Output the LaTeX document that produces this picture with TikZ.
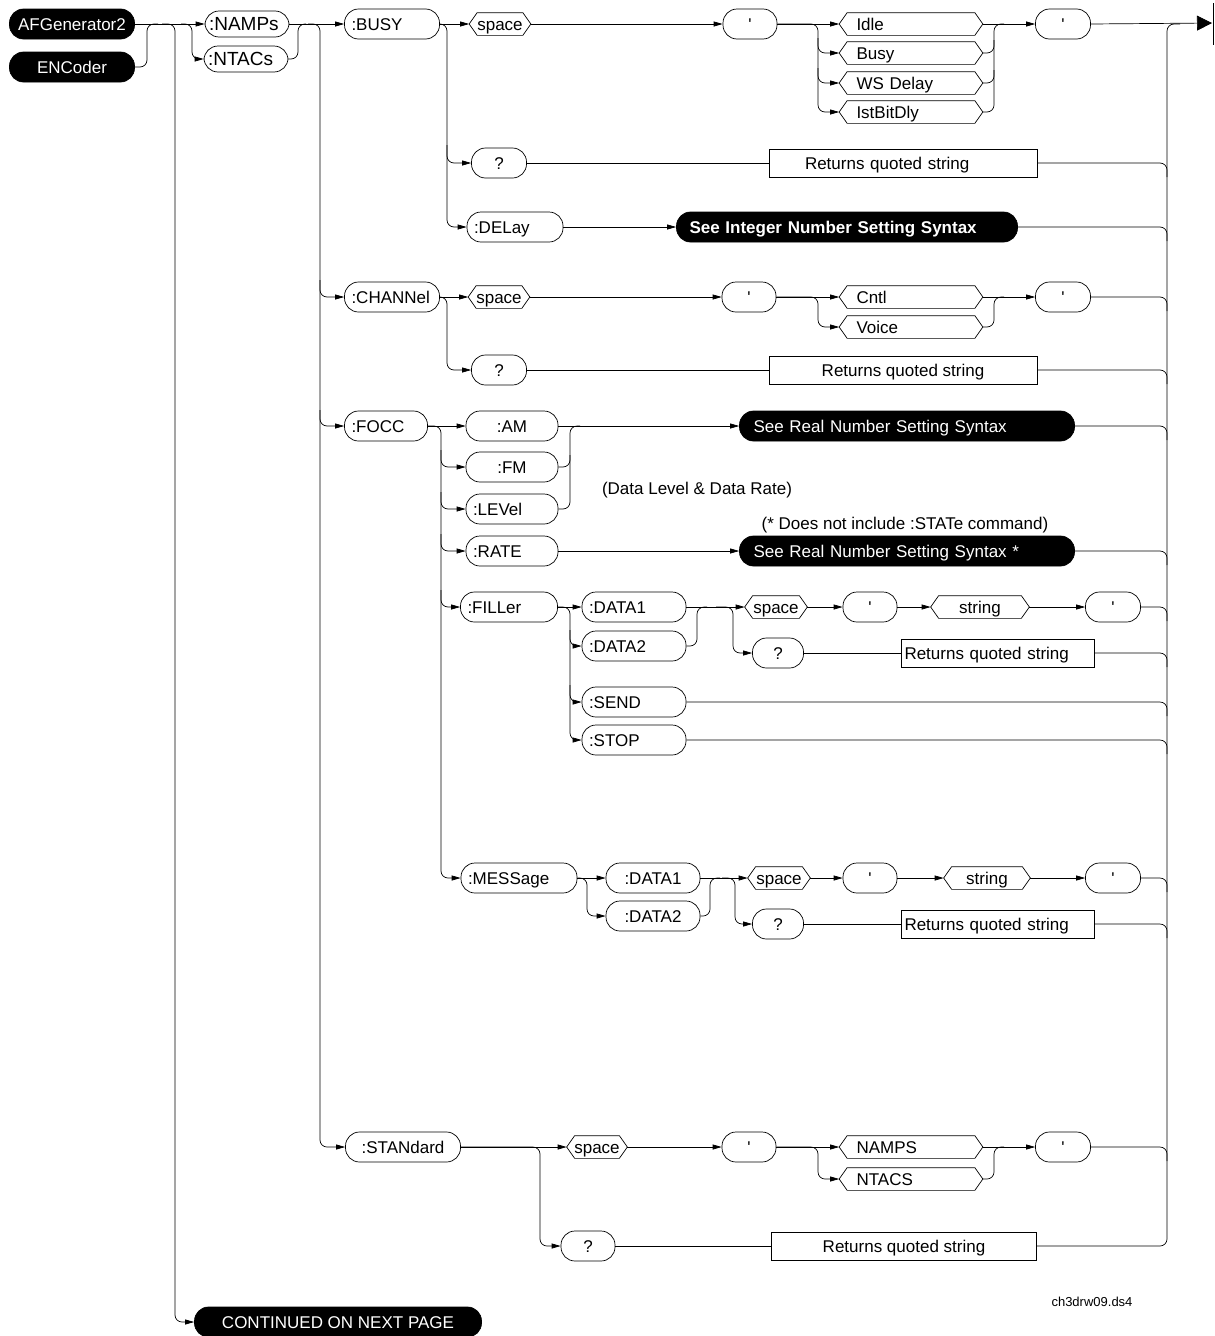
\documentclass[tikz,border=0pt]{standalone}
\usepackage{fontspec}
\setmainfont{Liberation Sans}
\usetikzlibrary{arrows.meta}
\begin{document}
\begin{tikzpicture}[x=1pt,y=-1pt,
  font=\fontsize{17}{20}\selectfont,
  line width=0.7pt,
  base/.style={inner sep=0pt, text height=12pt, text depth=0pt},
  pill/.style={base, draw, rounded corners=14pt, minimum height=30pt, inner xsep=7pt},
  pillL/.style={pill, text width=#1, align=left},
  pillC/.style={pill, minimum width=#1},
  blk/.style={base, draw=black, fill=black, text=white, rounded corners=14pt, minimum height=30pt, inner xsep=13pt},
  hexa/.style={base, minimum height=22pt, minimum width=#1},
  hexaL/.style={base, minimum height=22pt, inner xsep=17pt, text width=109pt, align=left},
  rbox/.style={base, draw, minimum height=28pt, minimum width=#1},
  rboxL/.style={base, draw, minimum height=28pt, inner xsep=3pt, text width=#1, align=left},
  arr/.style={-{Triangle[length=9pt,width=5pt]}},
  rc/.style={rounded corners=7pt},
  note/.style={base},
  big/.style={font=\fontsize{19}{22}\selectfont}
]
\useasboundingbox (0,0) rectangle (1215,1336);

% ---------- nodes ----------
\node[blk, minimum width=125pt, inner xsep=0pt] (afg) at (72,24) {AFGenerator2};
\node[blk, minimum width=125pt, inner xsep=0pt] (enc) at (72,67) {ENCoder};
\node[pillL=76pt, minimum height=26pt, inner xsep=4pt, big] (namps) at (247,24) {:NAMPs};
\node[pillL=76pt, minimum height=26pt, inner xsep=4pt, big] (ntacs) at (246,59) {:NTACs};

\node[pillL=81pt] (busy) at (392,24) {:BUSY};
\node[hexa=61pt] (sp1) at (500,24) {space};
\node[pillC=55pt] (bq) at (499,163) {?};
\node[pillL=82pt] (delay) at (515,227) {:DELay};
\node[pillC=54pt] (q1) at (750,24) {\textquotesingle};
\node[hexaL] (idle) at (911,24) {Idle};
\node[hexaL] (bsy) at (911,53) {Busy};
\node[hexaL] (wsd) at (911,83) {WS Delay};
\node[hexaL] (ist) at (911,112) {IstBitDly};
\node[pillC=55pt] (q2) at (1063,24) {\textquotesingle};
\node[rboxL=232pt, inner xsep=18pt] (r1) at (903,163) {\hspace*{18pt}Returns quoted string};
\node[blk, minimum width=341pt, text width=315pt, align=left] (intb) at (847,227) {\bfseries See Integer Number Setting Syntax};

\node[pillL=81pt] (chan) at (392,297) {:CHANNel};
\node[hexa=61pt] (sp2) at (499,297) {space};
\node[pillC=55pt] (cq) at (499,370) {?};
\node[pillC=54pt] (q3) at (749,297) {\textquotesingle};
\node[hexaL] (cntl) at (911,297) {Cntl};
\node[hexaL] (voice) at (911,327) {Voice};
\node[pillC=55pt] (q4) at (1063,297) {\textquotesingle};
\node[rbox=268pt] (r2) at (903,370) {Returns quoted string};

\node[pillL=69pt] (focc) at (386,426) {:FOCC};
\node[pillC=92pt] (am) at (512,426) {:AM};
\node[pillC=92pt] (fm) at (512,467) {:FM};
\node[pillL=78pt] (level) at (512,509) {:LEVel};
\node[pillL=78pt] (rate) at (512,551) {:RATE};
\node[blk, minimum width=335pt, text width=307pt, inner xsep=14pt, align=left] (real1) at (907,426) {See Real Number Setting Syntax};
\node[note] (dl) at (697,488) {(Data Level \& Data Rate)};
\node[note] (dni) at (905,523) {(* Does not include :STATe command)};
\node[blk, minimum width=335pt, text width=307pt, inner xsep=14pt, align=left] (real2) at (907,551) {See Real Number Setting Syntax *};

\node[pillL=83pt] (filler) at (509,607) {:FILLer};
\node[pillL=90pt] (d1) at (634,607) {:DATA1};
\node[pillL=90pt] (d2) at (634,646) {:DATA2};
\node[pillL=90pt] (send) at (634,702) {:SEND};
\node[pillL=90pt] (stop) at (634,740) {:STOP};
\node[hexa=62pt] (sp3) at (776,607) {space};
\node[pillC=54pt] (q7) at (870,607) {\textquotesingle};
\node[hexa=98pt] (str1) at (980,607) {string};
\node[pillC=55pt] (q8) at (1113,607) {\textquotesingle};
\node[pillC=51pt] (fq) at (778,653) {?};
\node[rboxL=187pt] (r3) at (998,653) {Returns quoted string};

\node[pillL=102pt] (mess) at (519,878) {:MESSage};
\node[pillC=94pt] (md1) at (653,878) {:DATA1};
\node[pillC=94pt] (md2) at (653,916) {:DATA2};
\node[hexa=62pt] (sp4) at (779,878) {space};
\node[pillC=54pt] (q9) at (870,878) {\textquotesingle};
\node[hexa=86pt] (str2) at (987,878) {string};
\node[pillC=55pt] (q10) at (1113,878) {\textquotesingle};
\node[pillC=51pt] (mq) at (778,924) {?};
\node[rboxL=187pt] (r4) at (998,924) {Returns quoted string};

\node[pillC=115pt] (stand) at (403,1147) {:STANdard};
\node[hexa=60pt] (sp5) at (597,1147) {space};
\node[pillC=54pt] (q11) at (749,1147) {\textquotesingle};
\node[hexaL] (namps2) at (911,1147) {NAMPS};
\node[hexaL] (ntacs2) at (911,1179) {NTACS};
\node[pillC=55pt] (q12) at (1063,1147) {\textquotesingle};
\node[pillC=54pt] (sq) at (588,1246) {?};
\node[rbox=265pt] (r5) at (904,1246) {Returns quoted string};

\node[note, font=\fontsize{13}{15}\selectfont] (code) at (1092,1300) {ch3drw09.ds4};
\node[blk, minimum width=287pt, inner xsep=0pt] (cont) at (338,1322) {CONTINUED ON NEXT PAGE};

% hexagon outlines
\foreach \n in {sp1,sp2,sp3,sp4,sp5,str1,str2,idle,bsy,wsd,ist,cntl,voice,namps2,ntacs2}{
  \draw (\n.west) -- ([xshift=8pt]\n.north west) -- ([xshift=-8pt]\n.north east)
        -- (\n.east) -- ([xshift=-8pt]\n.south east) -- ([xshift=8pt]\n.south west) -- cycle;
}

% ---------- connectors ----------
% entry
\draw[arr] (afg.east) -- (namps.west);
\draw[rc] (enc.east) -| (147,24) -- (158,24);
\draw[rc,arr] (162,24) -| (175,1322) -- (cont.west);
\draw[rc,arr] (181,24) -| (192,59) -- (ntacs.west);
\draw[rc] (ntacs.east) -| (298,24) -- (306,24);
\draw[arr] (namps.east) -- (busy.west);
\draw[rc,arr] (308,24) -| (320,1147) -- (stand.west);
\draw[rc,arr] (320,280) |- (chan.west);
\draw[rc,arr] (320,410) |- (focc.west);

% BUSY
\draw[arr] (busy.east) -- (sp1.west);
\draw[rc,arr] (busy.east) -| (447,227) -- (delay.west);
\draw[rc,arr] (447,145) |- (bq.west);
\draw[arr] (sp1.east) -- (q1.west);
\draw[arr] (q1.east) -- (idle.west);
\draw[rc,arr] (q1.east) -| (818,112) -- (ist.west);
\draw[rc,arr] (818,38) |- (bsy.west);
\draw[rc,arr] (818,68) |- (wsd.west);
\draw[arr] (idle.east) -- (q2.west);
\draw[rc] (ist.east) -| (994,24) -- (1004,24);
\draw[rc] (bsy.east) -| (994,40);
\draw[rc] (wsd.east) -| (994,70);
\draw[-{Triangle[length=15pt,width=15pt]}] (q2.east) -- (1212,23);
\draw (1213,3) -- (1213,45);
\draw (bq.east) -- (r1.west);
\draw[arr] (delay.east) -- (intb.west);

% CHANNel
\draw[arr] (chan.east) -- (sp2.west);
\draw[rc,arr] (chan.east) -| (447,370) -- (cq.west);
\draw[arr] (sp2.east) -- (q3.west);
\draw[arr] (q3.east) -- (cntl.west);
\draw[rc,arr] (q3.east) -| (818,327) -- (voice.west);
\draw[arr] (cntl.east) -- (q4.west);
\draw[rc] (voice.east) -| (994,297) -- (1004,297);
\draw (cq.east) -- (r2.west);

% FOCC
\draw[arr] (focc.east) -- (am.west);
\draw[rc,arr] (focc.east) -| (441,878) -- (mess.west);
\draw[rc,arr] (441,450) |- (fm.west);
\draw[rc,arr] (441,492) |- (level.west);
\draw[rc,arr] (441,534) |- (rate.west);
\draw[rc,arr] (441,590) |- (filler.west);
\draw[arr] (am.east) -- (real1.west);
\draw[rc] (fm.east) -| (570,426) -- (580,426);
\draw[rc] (level.east) -| (570,455);
\draw[arr] (rate.east) -- (real2.west);

% FILLer
\draw[arr] (filler.east) -- (d1.west);
\draw[rc,arr] (filler.east) -| (570,740) -- (stop.west);
\draw[rc,arr] (570,630) |- (d2.west);
\draw[rc,arr] (570,685) |- (send.west);
\draw[rc] (d2.east) -| (697,607) -- (707,607);
\draw[rc,arr] (716,607) -| (733,653) -- (fq.west);
\draw[arr] (d1.east) -- (sp3.west);
\draw[arr] (sp3.east) -- (q7.west);
\draw[arr] (q7.east) -- (str1.west);
\draw[arr] (str1.east) -- (q8.west);
\draw (fq.east) -- (r3.west);

% MESSage
\draw[arr] (mess.east) -- (md1.west);
\draw[rc,arr] (mess.east) -| (587,916) -- (md2.west);
\draw[rc] (md2.east) -| (710,878) -- (720,878);
\draw[rc,arr] (722,878) -| (735,924) -- (mq.west);
\draw[arr] (md1.east) -- (sp4.west);
\draw[arr] (sp4.east) -- (q9.west);
\draw[arr] (q9.east) -- (str2.west);
\draw[arr] (str2.east) -- (q10.west);
\draw (mq.east) -- (r4.west);

% STANdard
\draw[arr] (stand.east) -- (sp5.west);
\draw[rc,arr] (stand.east) -| (540,1246) -- (sq.west);
\draw[arr] (sp5.east) -- (q11.west);
\draw[arr] (q11.east) -- (namps2.west);
\draw[rc,arr] (q11.east) -| (818,1179) -- (ntacs2.west);
\draw[arr] (namps2.east) -- (q12.west);
\draw[rc] (ntacs2.east) -| (994,1147) -- (1004,1147);
\draw (sq.east) -- (r5.west);

% collector
\draw[rc] (r5.east) -| (1167,24) -- (1180,24);
\foreach \n in {r1,intb,q4,r2,real1,real2,q8,r3,send,stop,q10,r4,q12}{
  \draw[rc] (\n.east) -| ([yshift=-14pt]1167,0 |- \n.east);
}
\end{tikzpicture}
\end{document}
